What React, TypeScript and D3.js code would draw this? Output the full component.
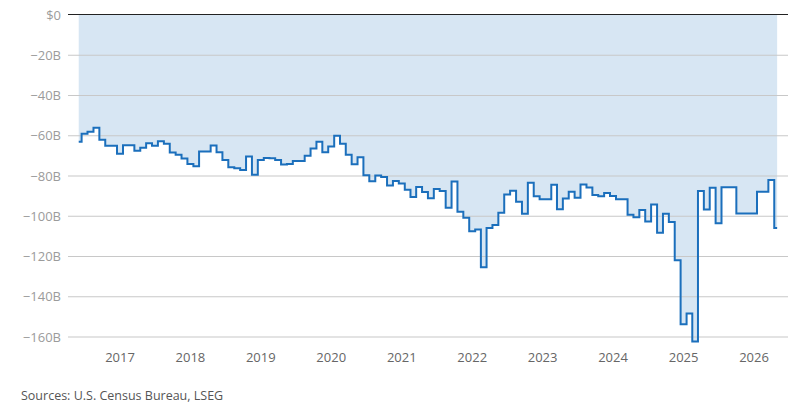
import React, { useEffect, useRef } from 'react';
import * as d3 from 'd3';

// monthly goods trade balance, $B, first month is June 2016
const firstMonth = new Date(2016, 5, 1);
const balance: (number | null)[] = [
  -63, -59, -58, -56, -62, -65, -65,
  -69, -64.7, -64.7, -67.5, -66, -63.7, -65, -62.7, -64, -68.3, -69.5, -71.3,
  -74, -75.2, -67.8, -67.8, -64.8, -68.2, -72, -75.7, -76.1, -77, -70.3, -79.4,
  -72, -71, -71.2, -72, -74.3, -74, -72.5, -72.6, -69.9, -66.3, -63, -68.2,
  -65.3, -60, -64, -69.5, -74.2, -70.7, -79.6, -82.6, -79.7, -80.5, -84.7, -82.5,
  -83.7, -86.8, -90.4, -85.5, -88, -91, -86.5, -87.5, -95.8, -82.7, -97.8, -100.7,
  -107.5, -106.6, -125.3, -105.8, -104.3, -98.2, -89.2, -87.3, -92.8, -98.7, -83.3, -90.1,
  -91.5, -91.5, -84.4, -96.5, -91.2, -87.8, -90.8, -84.2, -85.7, -89.4, -90.1, -88.5,
  -89.9, -91.6, -91.6, -99.3, -100.5, -96.9, -102.6, -94.1, -108.2, -98.7, -102.8, -121.9,
  -153.7, -148.3, -162.2, -87.4, -96.6, -85.8, -103.5, -85.6, -85.6, null, -98.6, -98.6,
  -98.6, -87.8, -87.8, -82, -105.8,
];
const yTicks = [0, -20, -40, -60, -80, -100, -120, -140, -160];
const yearTicks = [2017, 2018, 2019, 2020, 2021, 2022, 2023, 2024, 2025, 2026];
const sourceNote = 'Sources: U.S. Census Bureau, LSEG';

const width = 798;
const height = 417;
const font = '"Open Sans", sans-serif';

export default function App() {
  const ref = useRef<SVGSVGElement>(null);

  useEffect(() => {
    const svg = d3.select(ref.current);
    svg.selectAll('*').remove();

    const points = balance
      .map((v, i) => ({ date: d3.timeMonth.offset(firstMonth, i), value: v }))
      .filter(d => d.value !== null) as { date: Date; value: number }[];

    const x = d3
      .scaleTime()
      .domain([new Date(2017, 0, 1), new Date(2026, 0, 1)])
      .range([120, 754]);

    const y = d3.scaleLinear().domain([0, -160]).range([15, 337]);

    const area = d3
      .area<{ date: Date; value: number }>()
      .curve(d3.curveStep)
      .x(d => x(d.date))
      .y0(y(0))
      .y1(d => y(d.value));

    const line = d3
      .line<{ date: Date; value: number }>()
      .curve(d3.curveStep)
      .x(d => x(d.date))
      .y(d => y(d.value));

    svg
      .append('path')
      .datum(points)
      .attr('fill', '#d7e6f3')
      .attr('d', area);

    // gridlines
    svg
      .append('g')
      .selectAll('line')
      .data(yTicks.filter(t => t !== 0))
      .join('line')
      .attr('x1', 68)
      .attr('x2', 788)
      .attr('y1', d => y(d))
      .attr('y2', d => y(d))
      .attr('stroke', '#c8c8c8')
      .attr('stroke-width', 1.2);

    svg
      .append('path')
      .datum(points)
      .attr('fill', 'none')
      .attr('stroke', '#1b6fbc')
      .attr('stroke-width', 2)
      .attr('stroke-linejoin', 'miter')
      .attr('d', line);

    svg
      .append('line')
      .attr('x1', 68)
      .attr('x2', 788)
      .attr('y1', y(0) - 0.5)
      .attr('y2', y(0) - 0.5)
      .attr('stroke', '#222')
      .attr('stroke-width', 1.2);

    svg
      .append('g')
      .selectAll('text')
      .data(yTicks)
      .join('text')
      .attr('x', 61)
      .attr('y', d => y(d))
      .attr('dy', '0.35em')
      .attr('text-anchor', 'end')
      .attr('fill', '#9b9b9b')
      .attr('font-family', font)
      .attr('font-size', 13)
      .text(d => (d === 0 ? '$0' : `\u2212${Math.abs(d)}B`));

    svg
      .append('g')
      .selectAll('text')
      .data(yearTicks)
      .join('text')
      .attr('x', d => x(new Date(d, 0, 1)))
      .attr('y', 362)
      .attr('text-anchor', 'middle')
      .attr('fill', '#666')
      .attr('font-family', font)
      .attr('font-size', 13)
      .text(d => String(d));

    svg
      .append('text')
      .attr('x', 21)
      .attr('y', 400)
      .attr('fill', '#555')
      .attr('font-family', font)
      .attr('font-size', 12.5)
      .text(sourceNote);
  });

  return (
    <svg
      ref={ref}
      width={width}
      height={height}
      style={{ position: 'absolute', left: 0, top: 0, background: '#fff' }}
    />
  );
}
